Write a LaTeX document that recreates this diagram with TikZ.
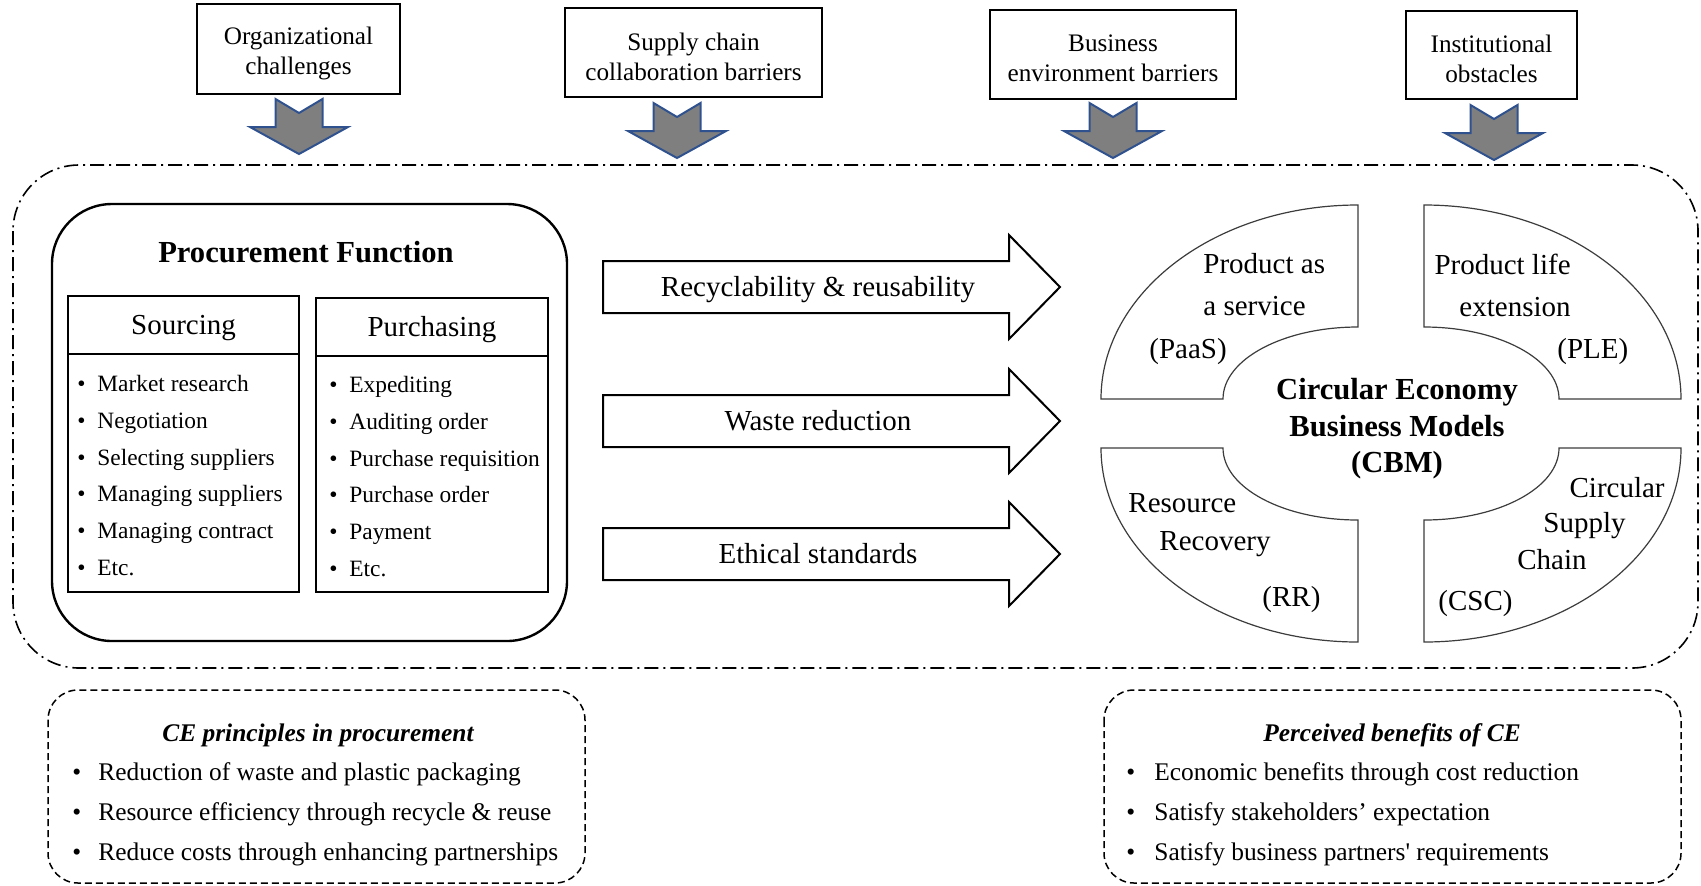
\documentclass[tikz,border=0pt]{standalone}
\usepackage{fontspec}
\setmainfont{Liberation Serif}
\usepackage{tikz}
\usetikzlibrary{positioning}
\definecolor{arrowgray}{RGB}{127,127,127}
\definecolor{arrowedge}{RGB}{47,82,143}
\definecolor{quadline}{RGB}{60,60,60}
\tikzset{
  barrier/.style={draw,line width=1pt,inner sep=0pt},
  barriertext/.style={align=center,inner sep=0pt,yshift=-2pt,
    font=\fontsize{12.6pt}{15pt}\selectfont},
  downarrow/.pic={
    \draw[fill=arrowgray,draw=arrowedge,line width=1pt]
      (-23.5,0) -- (0,14) -- (23.5,0) -- (23.5,28) -- (49,28) -- (0,55)
      -- (-49,28) -- (-23.5,28) -- cycle;
  },
  ceframe/.style={line width=0.8pt,dash pattern=on 7pt off 2.5pt on 1pt off 2.5pt},
  procframe/.style={line width=1.2pt,rounded corners=30pt},
  colhead/.style={draw,line width=1.2pt,inner sep=0pt,outer sep=0pt,
    text height=0.9em,text depth=0pt,font=\fontsize{14.5pt}{17pt}\selectfont},
  colbody/.style={draw,line width=1.2pt,inner sep=0pt,outer sep=0pt},
  listitem/.style={anchor=west,inner sep=0pt,text height=0.85em,text depth=0pt,
    font=\fontsize{11.7pt}{14pt}\selectfont},
  boldtitle/.style={inner sep=0pt,font=\bfseries\fontsize{15.3pt}{18.3pt}\selectfont},
  flowarrow/.pic={
    \draw[line width=1pt,fill=white]
      (0,-26) -- (406,-26) -- (406,-52) -- (457,0) -- (406,52) -- (406,26)
      -- (0,26) -- cycle;
  },
  flowlabel/.style={inner sep=0pt,text height=0.9em,text depth=0pt,
    font=\fontsize{14.5pt}{17pt}\selectfont},
  quadrant/.style={draw=quadline,line width=0.6pt,fill=white},
  quadtext/.style={inner sep=0pt,text height=0.9em,text depth=0pt,
    font=\fontsize{14.5pt}{17pt}\selectfont},
  notebox/.style={line width=0.75pt,dash pattern=on 3.5pt off 2pt,rounded corners=15pt},
  notetitle/.style={inner sep=0pt,text height=0.92em,text depth=0pt,
    font=\bfseries\itshape\fontsize{12.7pt}{15pt}\selectfont},
  noteitem/.style={anchor=west,inner sep=0pt,text height=0.84em,text depth=0pt,
    font=\fontsize{12.7pt}{15pt}\selectfont}
}
\begin{document}
\begin{tikzpicture}[x=0.5pt,y=-0.5pt]
    \useasboundingbox (0,0) rectangle (1701,885);

    % barriers on top
    \node[barrier,minimum width=101.5pt,minimum height=45pt,
      label={[barriertext]center:{Organizational\\challenges}}] (orgch) at (298.5,49) {};
    \node[barrier,minimum width=128.5pt,minimum height=44.5pt,
      label={[barriertext]center:{Supply chain\\collaboration barriers}}] (supch) at (693.5,52.5) {};
    \node[barrier,minimum width=123pt,minimum height=44.5pt,
      label={[barriertext]center:{Business\\environment barriers}}] (busenv) at (1113,54.5) {};
    \node[barrier,minimum width=85.5pt,minimum height=44pt,
      label={[barriertext]center:{Institutional\\obstacles}}] (instob) at (1491.5,55) {};

    \pic (arrorg) at (299,99) {downarrow};
    \pic (arrsup) at (677,103) {downarrow};
    \pic (arrbus) at (1113,103) {downarrow};
    \pic (arrins) at (1494,105) {downarrow};

    \draw[ceframe,rounded corners=33pt] (13,165) rectangle (1698,668);

    % procurement function
    \draw[procframe] (52,204) rectangle (567,641);
    \node[boldtitle] (proctitle) at (306,252) {Procurement Function};

    \node[colhead,minimum width=115.5pt,minimum height=29pt] (srchead) at (183.5,325) {Sourcing};
    \node[colbody,minimum width=115.5pt,minimum height=119pt,below=0pt of srchead] (srcbody) {};
    \node[colhead,minimum width=116pt,minimum height=29pt] (purhead) at (432,327) {Purchasing};
    \node[colbody,minimum width=116pt,minimum height=118pt,below=0pt of purhead] (purbody) {};

    \foreach \txt [count=\i] in {Market research,Negotiation,Selecting suppliers,Managing suppliers,Managing contract,Etc.}
      \node[listitem] (src\i) at (77,{383+36.8*(\i-1)}) {\makebox[10pt][l]{\textbullet}\txt};
    \foreach \txt [count=\i] in {Expediting,Auditing order,Purchase requisition,Purchase order,Payment,Etc.}
      \node[listitem] (pur\i) at (329,{384+36.8*(\i-1)}) {\makebox[10pt][l]{\textbullet}\txt};

    % flows into the business models
    \foreach \yy/\txt [count=\i] in {287/Recyclability \& reusability,421/Waste reduction,554/Ethical standards} {
      \pic (flowarr\i) at (603,\yy) {flowarrow};
      \node[flowlabel] (flow\i) at (818,\yy) {\txt};
    }

    % circular economy business models
    \foreach \cx/\cy/\sx/\sy in {1358/399/1/1,1424/399/-1/1,1358/448/1/-1,1424/448/-1/-1}
      \draw[quadrant,shift={(\cx,\cy)},xscale=\sx,yscale=\sy]
        (-257,0) -- (-135,0) arc[start angle=180,end angle=270,x radius=135,y radius=72]
        -- (0,-194) arc[start angle=270,end angle=180,x radius=257,y radius=194] -- cycle;

    \node[boldtitle,align=center,yshift=-1.9pt] (cbm) at (1397,425) {Circular Economy\\Business Models\\(CBM)};

    \node[quadtext,anchor=west] (paasa) at (1203,264) {Product as};
    \node[quadtext,anchor=west] (paasb) at (1203,306) {a service};
    \node[quadtext,anchor=west] (paasc) at (1149,349) {(PaaS)};
    \node[quadtext,anchor=east] (plea) at (1571,265) {Product life};
    \node[quadtext,anchor=east] (pleb) at (1571,307) {extension};
    \node[quadtext,anchor=west] (plec) at (1557,349) {(PLE)};
    \node[quadtext,anchor=west] (rra) at (1128,503) {Resource};
    \node[quadtext,anchor=west] (rrb) at (1159,541) {Recovery};
    \node[quadtext,anchor=west] (rrc) at (1262,597) {(RR)};
    \node[quadtext,anchor=east] (csca) at (1665,488) {Circular};
    \node[quadtext,anchor=east] (cscb) at (1626,523) {Supply};
    \node[quadtext,anchor=east] (cscc) at (1587,560) {Chain};
    \node[quadtext,anchor=west] (cscd) at (1438,601) {(CSC)};

    % notes below
    \draw[notebox] (48,690) rectangle (585,883);
    \node[notetitle] (cetitle) at (318,732) {CE principles in procurement};
    \foreach \txt [count=\i] in {Reduction of waste and plastic packaging,Resource efficiency through recycle \& reuse,Reduce costs through enhancing partnerships}
      \node[noteitem] (ce\i) at (72,{772+40*(\i-1)}) {\makebox[13pt][l]{\textbullet}\txt};

    \draw[notebox] (1104,690) rectangle (1681,883);
    \node[notetitle] (bentitle) at (1392,732) {Perceived benefits of CE};
    \foreach \txt [count=\i] in {Economic benefits through cost reduction,Satisfy stakeholders’ expectation,Satisfy business partners\textquotesingle{} requirements}
      \node[noteitem] (ben\i) at (1126,{772+40*(\i-1)}) {\makebox[14pt][l]{\textbullet}\txt};
  \end{tikzpicture}
\end{document}
